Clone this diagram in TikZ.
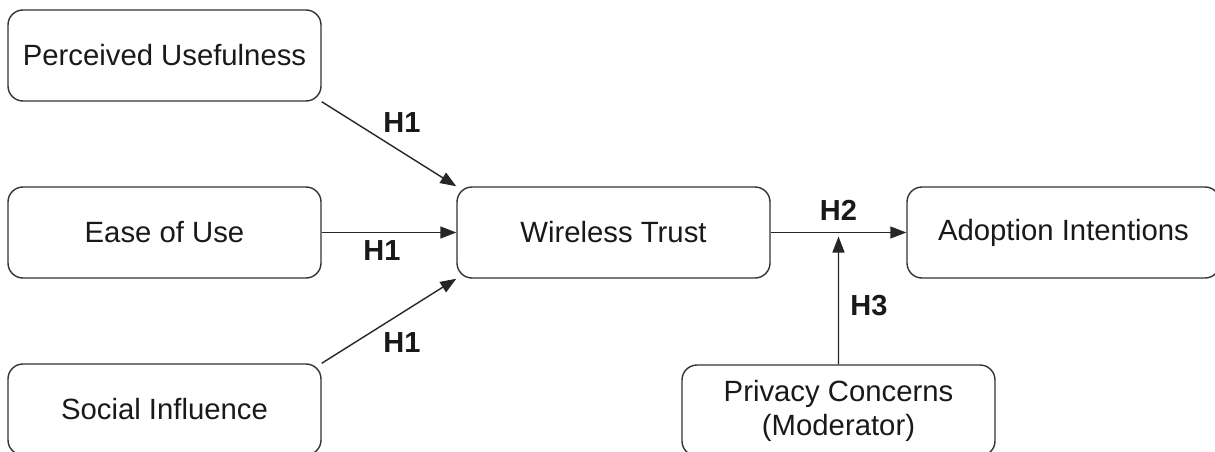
\documentclass[tikz,border=0pt]{standalone}
\usepackage{fontspec}
\setmainfont{Liberation Sans}
\usetikzlibrary{arrows.meta,calc}
\begin{document}
\begin{tikzpicture}[x=1pt,y=-1pt,
  box/.style={draw=black!80, line width=1.4pt, rounded corners=15pt, minimum width=313pt, minimum height=91pt, inner sep=0pt, align=center, font=\fontsize{29.3}{34}\selectfont, text=black!90},
  conn/.style={draw=black!85, line width=1.4pt, -{Triangle[length=16pt,width=12pt]}},
  lbl/.style={font=\fontsize{29}{34}\selectfont\bfseries, inner sep=0pt, text=black!90}]
\clip (0,0) rectangle (1215,452);
\node[box] (pu) at (164.5,55.5) {Perceived Usefulness};
\node[box] (eou) at (164.5,232.5) {Ease of Use};
\node[box] (si) at (164.5,409.5) {Social Influence};
\node[box] (wt) at (613.5,232.5) {Wireless Trust};
\node[box] (ai) at (1063.5,232.5) {Adoption Intentions};
\node[box] (pc) at (838.5,410.5) {Privacy Concerns\\(Moderator)};
\draw[conn] (pu.south east) -- (wt.north west) node[lbl, midway, xshift=13pt, yshift=21.5pt] (l1) {H1};
\draw[conn] (eou.east) -- (wt.west) node[lbl, midway, xshift=-7pt, yshift=-18.5pt] (l2) {H1};
\draw[conn] (si.north east) -- (wt.south west) node[lbl, midway, xshift=13pt, yshift=-21.5pt] (l3) {H1};
\draw[conn] (wt.east) -- (ai.west) node[lbl, midway, yshift=22.5pt] (l4) {H2};
\coordinate (mid) at ($(wt.east)!0.5!(ai.west)$);
\coordinate (modtip) at ($(mid)+(0,4)$);
\draw[conn] (pc.north) -- (modtip) node[lbl, midway, xshift=30.5pt, yshift=-5pt] (l5) {H3};
\end{tikzpicture}
\end{document}
